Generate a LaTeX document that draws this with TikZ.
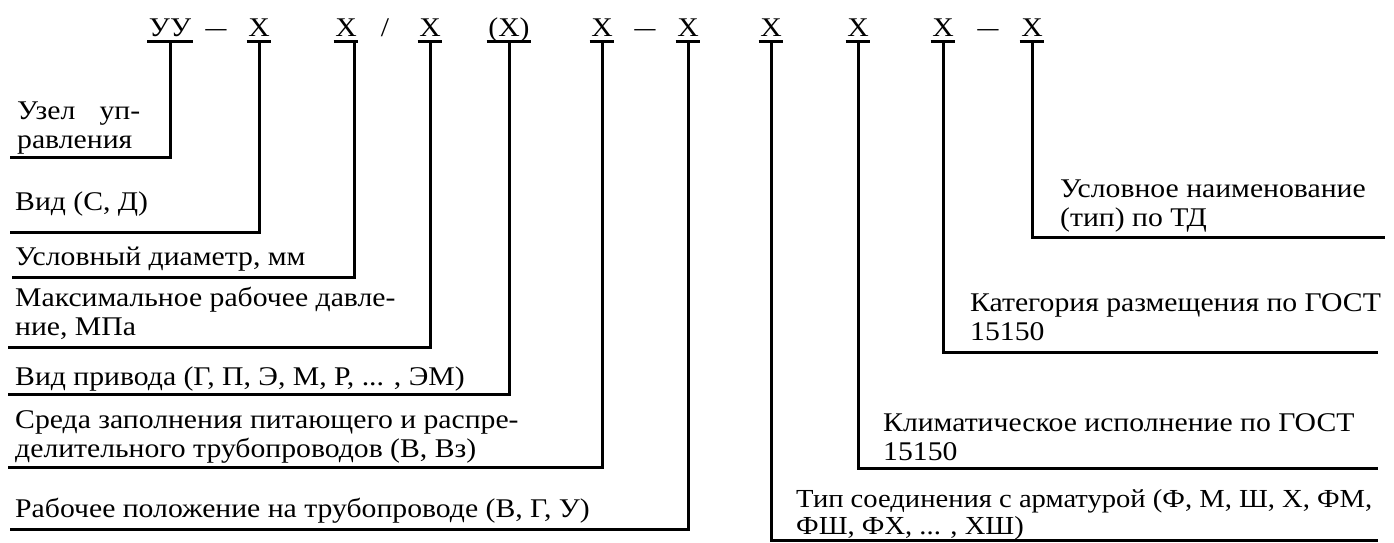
\documentclass[tikz,border=0pt]{standalone}
\usepackage{fontspec}
\setmainfont[FakeStretch=1.1]{Liberation Serif}
\begin{document}
\begin{tikzpicture}[x=1pt,y=-1pt,
  lead/.style={line width=3pt},
  code/.style={anchor=base, inner xsep=1.5pt, inner ysep=0pt, text depth=5pt,
               font=\fontsize{27}{30}\selectfont},
  sym/.style={anchor=base, inner sep=0pt, font=\fontsize{27}{30}\selectfont},
  lab/.style={anchor=base west, inner sep=0pt, align=left,
              font=\fontsize{27}{29}\selectfont}]
\useasboundingbox[fill=white] (0,0) rectangle (1394,542);

% designation string
\node[code] (c1)  at (170,36)  {УУ};
\node[sym, xscale=1.4] (d1) at (216,36) {–};
\node[code] (c2)  at (259,36)  {Х};
\node[code] (c3)  at (346,36)  {Х};
\node[sym]  (s1)  at (385,36)  {/};
\node[code] (c4)  at (430,36)  {Х};
\node[code] (c5)  at (509,36)  {(Х)};
\node[code] (c6)  at (602,36)  {Х};
\node[sym, xscale=1.4] (d2) at (645,36) {–};
\node[code] (c7)  at (688,36)  {Х};
\node[code] (c8)  at (771,36)  {Х};
\node[code] (c9)  at (858,36)  {Х};
\node[code] (c10) at (943,36)  {Х};
\node[sym, xscale=1.4] (d3) at (988,36) {–};
\node[code] (c11) at (1032,36) {Х};

% underline bars
\foreach \c in {c1,c2,c3,c4,c5,c6,c7,c8,c9,c10,c11}
  \draw[lead] (\c.south west) -- (\c.south east);

% free ends of the leader lines
\coordinate (e1)  at (10,157);
\coordinate (e2)  at (10,232);
\coordinate (e3)  at (12,277);
\coordinate (e4)  at (8,347);
\coordinate (e5)  at (8,394);
\coordinate (e6)  at (8,467);
\coordinate (e7)  at (10,529);
\coordinate (e8)  at (1378,540);
\coordinate (e9)  at (1378,468);
\coordinate (e10) at (1378,352);
\coordinate (e11) at (1385,237);

% leader lines
\draw[lead] (c1.south) |- (e1);
\draw[lead] (c2.south) |- (e2);
\draw[lead] ([xshift=8pt]c3.south) |- (e3);
\draw[lead] (c4.south) |- (e4);
\draw[lead] (c5.south) |- (e5);
\draw[lead] (c6.south) |- (e6);
\draw[lead] (c7.south) |- (e7);
\draw[lead] (c8.south) |- (e8);
\draw[lead] (c9.south) |- (e9);
\draw[lead] (c10.south) |- (e10);
\draw[lead] (c11.south) |- (e11);

% explanations, left column (anchored at the last baseline)
\node[lab] (l1) at (17,148) {Узел\hspace{0.9em}уп-\\равления};
\node[lab] (l2) at (15,210) {Вид (С, Д)};
\node[lab] (l3) at (15,265) {Условный диаметр, мм};
\node[lab] (l4) at (15,335) {Максимальное рабочее давле-\\ние, МПа};
\node[lab] (l5) at (15,385) {Вид привода (Г, П, Э, М, Р, ... , ЭМ)};
\node[lab] (l6) at (15,457) {Среда заполнения питающего и распре-\\делительного трубопроводов (В, Вз)};
\node[lab] (l7) at (15,517) {Рабочее положение на трубопроводе (В, Г, У)};

% explanations, right column
\node[lab] (r1) at (1060,226) {Условное наименование\\(тип) по ТД};
\node[lab] (r2) at (970,340) {Категория размещения по ГОСТ\\15150};
\node[lab] (r3) at (883,460) {Климатическое исполнение по ГОСТ\\15150};
\node[lab, font=\fontsize{26}{27}\selectfont] (r4) at (796,534)
  {Тип соединения с арматурой (Ф, М, Ш, Х, ФМ,\\ФШ, ФХ, ... , ХШ)};
\end{tikzpicture}
\end{document}
